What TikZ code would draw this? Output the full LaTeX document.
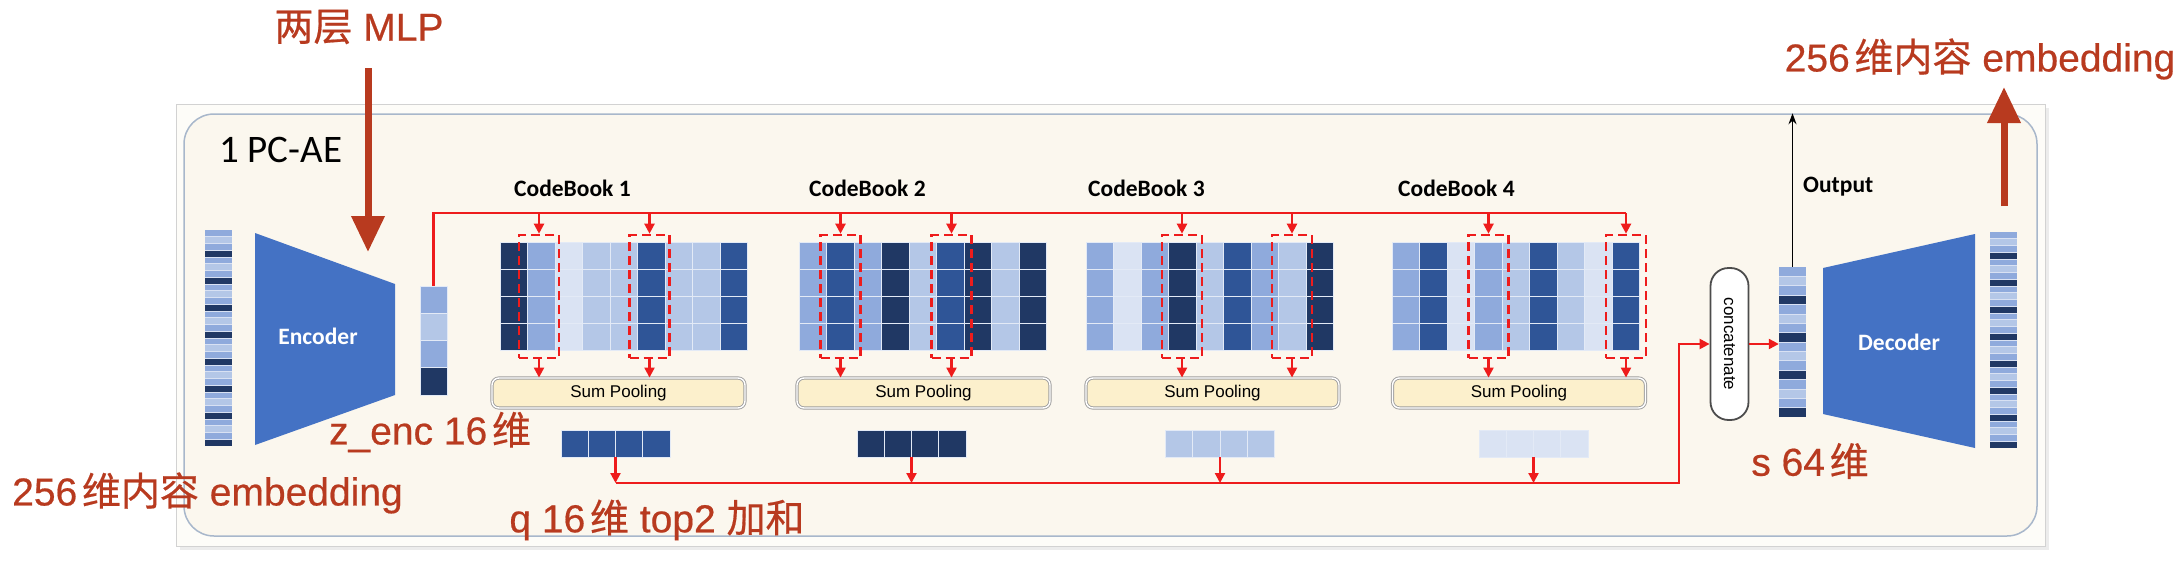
\documentclass[tikz,border=0pt]{standalone}
\usepackage{fontspec}
\usepackage{tikz}
\setmainfont{Carlito}
\newfontfamily\cjk{Noto Sans CJK SC}[FakeBold=0.5]
\newfontfamily\lsans{Liberation Sans}
\newfontfamily\notesans{Liberation Sans}[FakeBold=0.5]
\usetikzlibrary{arrows.meta, positioning, calc}

\definecolor{cbnavy}{HTML}{203864}
\definecolor{cbdblue}{HTML}{2F5597}
\definecolor{cbmid}{HTML}{8FAADC}
\definecolor{cblight}{HTML}{B4C7E7}
\definecolor{cbvlight}{HTML}{DAE3F3}
\definecolor{encblue}{HTML}{4472C4}
\definecolor{cream}{HTML}{FBF7EE}
\definecolor{framecol}{HTML}{A8B7CB}
\definecolor{notered}{HTML}{B83A1F}
\definecolor{wirered}{HTML}{EE1C1C}
\definecolor{poolfill}{HTML}{FCF0CC}

\newcommand\zh[1]{{\cjk #1}}
\newcommand\notefont{\notesans\fontsize{39}{41}\selectfont}
\newcommand\titlefont{\bfseries\fontsize{23.5}{25}\selectfont}
\newcommand\poolfont{\lsans\fontsize{17}{18}\selectfont}

% one codebook: 9 columns x 4 rows, #1 = left x, #2 = column colours
\newcommand\codebook[2]{%
  \foreach \cc [count=\j] in {#2} {
    \foreach \rr in {0,...,3}
      \draw[cell, fill=\cc] ({#1+(\j-1)*27.5},{242+\rr*27}) rectangle +(27.5,27);
  }}

% striped embedding bar: #1 x0, #2 y0, #3 stripe height, #4 periods
\newcommand\stripebar[4]{%
  \fill[cbmid] (#1,#2) rectangle ({#1+27},{#2+4*#3*#4});
  \foreach \p in {1,...,#4} {
    \fill[cblight] (#1,{#2+(4*\p-3)*#3}) rectangle ({#1+27},{#2+(4*\p-2)*#3});
    \fill[cbnavy] (#1,{#2+(4*\p-1)*#3}) rectangle ({#1+27},{#2+4*\p*#3});
  }
  \pgfmathtruncatemacro\nlines{4*#4-1}
  \foreach \k in {1,...,\nlines}
    \draw[white!65!cbmid, line width=0.6pt] (#1,{#2+\k*#3}) -- ++(27,0);
}

% pooled vector q: #1 name, #2 centre x, #3 colour
\newcommand\qvec[3]{%
  \node[qvec] (#1) at (#2,443.5) {};
  \foreach \i in {0,...,3}
    \draw[cell, fill=#3] ({#2-54.5+\i*27.25},430) rectangle +(27.25,27);
}

\begin{document}
\begin{tikzpicture}[x=1pt, y=-1pt,
  wire/.style={draw=wirered, line width=2.2pt},
  wirearr/.style={wire, -{Triangle[width=10pt,length=10pt]}},
  selbox/.style={draw=wirered, line width=2.6pt, dash pattern=on 9pt off 5pt,
    minimum width=40pt, minimum height=123pt, inner sep=0pt},
  pool/.style={draw=gray!75, double=white, double distance=1.4pt, line width=0.9pt,
    fill=poolfill, rounded corners=7pt, minimum width=253pt, minimum height=30pt,
    inner sep=0pt, font=\poolfont},
  pill/.style={draw=gray!60!black, line width=1.8pt, fill=white, rounded corners=18pt,
    minimum width=38pt, minimum height=152pt, inner sep=0pt},
  panel/.style={draw=framecol, line width=1.5pt, fill=cream, rounded corners=30pt,
    minimum width=1853pt, minimum height=422pt, inner sep=0pt},
  note/.style={text=notered, font=\notefont, inner sep=0pt},
  bigarrow/.style={draw=notered, line width=7pt, -{Triangle[width=32pt,length=36pt]}},
  cbtitle/.style={font=\titlefont, anchor=west, inner sep=0pt},
  qvec/.style={minimum width=109pt, minimum height=27pt, inner sep=0pt},
  barnode/.style={minimum width=27pt, inner sep=0pt},
  cell/.style={draw=white!75!cbmid, line width=0.8pt}
]
\useasboundingbox (0,0) rectangle (2182,560);
\fill[white] (0,0) rectangle (2182,560);

% frame
\fill[gray!15] (180,108) rectangle (2049,550);
\draw[gray!35, fill=white!60!cream] (176,104) rectangle (2045,546);
\node[panel] (panel) at (1110.5,325) {};
\node[anchor=west, inner sep=0pt, font=\fontsize{39}{40}\selectfont] (title) at (219,150) {1 PC-AE};

% encoder side
\node[barnode, minimum height=216pt] (inbar) at (218.5,338) {};
\stripebar{205}{230}{6.75}{8}
\fill[encblue] (255,233) -- (395,284) -- (395,395) -- (255,445) -- cycle;
\node[text=white, font=\titlefont] (enc) at (318,336) {Encoder};
\node[barnode, minimum height=109pt] (zenc) at (433.5,340.5) {};
\foreach \cc [count=\j] in {cbmid,cblight,cbmid,cbnavy}
  \draw[cell, fill=\cc] (420,{286+(\j-1)*27.25}) rectangle +(27,27.25);

% codebooks
\codebook{500}{cbnavy,cbmid,cbvlight,cblight,cblight,cbdblue,cblight,cblight,cbdblue}
\codebook{799}{cbmid,cbdblue,cbmid,cbnavy,cblight,cbdblue,cbnavy,cblight,cbnavy}
\codebook{1086}{cbmid,cbvlight,cbmid,cbnavy,cblight,cbdblue,cbmid,cblight,cbnavy}
\codebook{1392}{cbmid,cbdblue,cbvlight,cbmid,cblight,cbdblue,cblight,cbvlight,cbdblue}
\node[cbtitle] (cbt1) at (514,188) {CodeBook 1};
\node[cbtitle] (cbt2) at (809,188) {CodeBook 2};
\node[cbtitle] (cbt3) at (1088,188) {CodeBook 3};
\node[cbtitle] (cbt4) at (1398,188) {CodeBook 4};

% top-2 selections
\node[selbox] (sel11) at (539,296.5) {};
\node[selbox] (sel12) at (649.5,296.5) {};
\node[selbox] (sel21) at (840.5,296.5) {};
\node[selbox] (sel22) at (951.5,296.5) {};
\node[selbox] (sel31) at (1182,296.5) {};
\node[selbox] (sel32) at (1292,296.5) {};
\node[selbox] (sel41) at (1488.5,296.5) {};
\node[selbox] (sel42) at (1626,296.5) {};

\node[pool] (sp1) at (618.5,393) {Sum Pooling};
\node[pool] (sp2) at (923.5,393) {Sum Pooling};
\node[pool] (sp3) at (1212.5,393) {Sum Pooling};
\node[pool] (sp4) at (1519,393) {Sum Pooling};

\qvec{q1}{615.5}{cbdblue}
\qvec{q2}{911.5}{cbnavy}
\qvec{q3}{1220}{cblight}
\qvec{q4}{1533.5}{cbvlight}

% red wiring
\coordinate (bus) at (0,213);
\coordinate (qbus) at (0,483);
\draw[wire] (zenc.north) |- (sel42.north |- bus);
\foreach \s/\p in {sel11/sp1,sel12/sp1,sel21/sp2,sel22/sp2,sel31/sp3,sel32/sp3,sel41/sp4,sel42/sp4} {
  \draw[wirearr] (\s.north |- bus) -- (\s.north);
  \draw[wirearr] (\s.south) -- (\s.south |- \p.north);
}
\foreach \q in {q1,q2,q3,q4}
  \draw[wirearr] (\q.south) -- (\q.south |- qbus);

% decoder side
\node[pill] (concat) at (1729.5,344) {};
\node[rotate=-90, inner sep=0pt, font=\poolfont] (concattxt) at (concat.center) {concatenate};
\draw[wirearr] (q1.south |- qbus) -| ([xshift=-31pt]concat.west) -- (concat.west);
\node[barnode, minimum height=150pt] (sbar) at (1792.5,342) {};
\stripebar{1779}{267}{9.375}{4}
\draw[wirearr] (concat.east) -- (concat.east -| sbar.west);
\draw[line width=1.6pt, -{Stealth[length=11pt,width=8pt]}] (sbar.north) -- (sbar.north |- panel.north);
\node[font=\titlefont, anchor=west, inner sep=0pt] (outtxt) at (1803,187) {Output};
\fill[encblue] (1823,268) -- (1975,234) -- (1975,448) -- (1823,414) -- cycle;
\node[text=white, font=\titlefont] (dec) at (1899,342) {Decoder};
\node[barnode, minimum height=216pt] (outbar) at (2003.5,340) {};
\stripebar{1990}{232}{6.75}{8}

% annotations
\coordinate (mlpfrom) at (368,68);
\coordinate (mlpto) at (368,252);
\draw[bigarrow] (mlpfrom) -- (mlpto);
\coordinate (embfrom) at (2004,206);
\coordinate (embto) at (2004,87);
\draw[bigarrow] (embfrom) -- (embto);
\node[note] (mlp) at (359,27) {\zh{两层} MLP};
\node[note, anchor=west] (inlbl) at (12,493) {256\hspace{.12em}\zh{维内容} embedding};
\node[note] (zlbl) at (430,432) {z\_enc 16\hspace{.12em}\zh{维}};
\node[note] (qlbl) at (657,520) {q 16\hspace{.12em}\zh{维} top2 \zh{加和}};
\node[note] (slbl) at (1810,461) {s 64\hspace{.12em}\zh{维}};
\node[note] (outlbl) at (1980,59) {256\hspace{.12em}\zh{维内容} embedding};
\end{tikzpicture}
\end{document}
